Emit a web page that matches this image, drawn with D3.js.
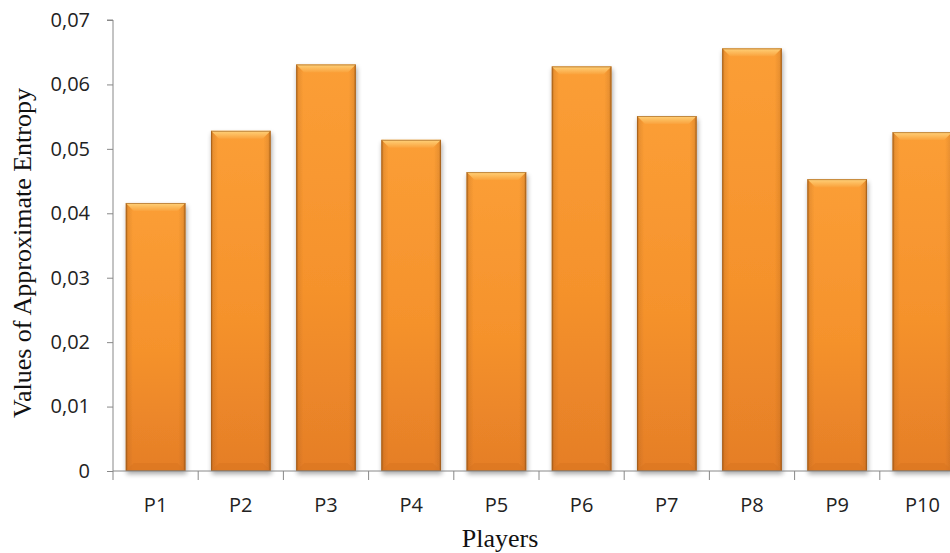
<!DOCTYPE html>
<html><head><meta charset="utf-8">
<script src="https://cdn.jsdelivr.net/npm/d3@7"></script>
<style>body{margin:0;background:#fff}svg{display:block}</style>
</head><body>
<svg id="c" width="950" height="553"></svg>
<script>
const categories = ["P1","P2","P3","P4","P5","P6","P7","P8","P9","P10"];
const values = [0.0416,0.0528,0.0631,0.0514,0.0464,0.0628,0.0551,0.0656,0.0453,0.0526];
const yTicks = [0,0.01,0.02,0.03,0.04,0.05,0.06,0.07];
const yTitle = "Values of Approximate Entropy";
const xTitle = "Players";

(function(){
const svg = d3.select("#c");
const mLeft = 113, mTop = 20, mBottom = 471, step = 85.2;
const x = d3.scaleBand().domain(categories).range([mLeft, mLeft + step*categories.length]).paddingInner(0.3).paddingOuter(0.15);
const y = d3.scaleLinear().domain([0,0.07]).range([mBottom, mTop]);

const defs = svg.append("defs");
const gv = defs.append("linearGradient").attr("id","gv").attr("x1",0).attr("y1",0).attr("x2",0).attr("y2",1);
gv.append("stop").attr("offset","0%").attr("stop-color","#FB9E36");
gv.append("stop").attr("offset","55%").attr("stop-color","#F5922C");
gv.append("stop").attr("offset","100%").attr("stop-color","#E57E27");
const gh = defs.append("linearGradient").attr("id","gh").attr("x1",0).attr("y1",0).attr("x2",1).attr("y2",0);
gh.append("stop").attr("offset","0%").attr("stop-color","#8a4a10").attr("stop-opacity",0.55);
gh.append("stop").attr("offset","4%").attr("stop-color","#8a4a10").attr("stop-opacity",0.15);
gh.append("stop").attr("offset","12%").attr("stop-color","#8a4a10").attr("stop-opacity",0);
gh.append("stop").attr("offset","88%").attr("stop-color","#8a4a10").attr("stop-opacity",0);
gh.append("stop").attr("offset","96%").attr("stop-color","#8a4a10").attr("stop-opacity",0.15);
gh.append("stop").attr("offset","100%").attr("stop-color","#8a4a10").attr("stop-opacity",0.55);
const gb = defs.append("linearGradient").attr("id","gb").attr("x1",0).attr("y1",0).attr("x2",0).attr("y2",1);
gb.append("stop").attr("offset","0%").attr("stop-color","#FFD27A");
gb.append("stop").attr("offset","100%").attr("stop-color","#FAA23C");
const f = defs.append("filter").attr("id","sh").attr("x","-20%").attr("y","-20%").attr("width","140%").attr("height","140%");
f.append("feGaussianBlur").attr("in","SourceAlpha").attr("stdDeviation",2.5);
f.append("feOffset").attr("dx",1).attr("dy",3).attr("result","b");
f.append("feComponentTransfer").append("feFuncA").attr("type","linear").attr("slope",0.35);
const m = f.append("feMerge"); m.append("feMergeNode"); m.append("feMergeNode").attr("in","SourceGraphic");

const yAxis = svg.append("g").attr("transform",`translate(${mLeft},0)`)
  .call(d3.axisLeft(y).tickValues(yTicks).tickSize(6).tickPadding(17)
    .tickFormat(d => d===0 ? "0" : d3.format(".2f")(d).replace(".",",")));
yAxis.select(".domain").attr("stroke","#888").attr("d",`M-6,${mTop}H0V${mBottom}`);
yAxis.selectAll(".tick line").attr("stroke","#888");
yAxis.selectAll("text").attr("font-family","Open Sans, sans-serif").attr("font-size",20).attr("fill","#222");

const bars = svg.append("g");
const bw = x.bandwidth();
categories.forEach((c,i) => {
  const g = bars.append("g").attr("filter","url(#sh)");
  const x0 = x(c), y0 = y(values[i]), h = y(0)-y(values[i]);
  g.append("rect").attr("x",x0).attr("y",y0).attr("width",bw).attr("height",h).attr("fill","url(#gv)");
  g.append("rect").attr("x",x0).attr("y",y0).attr("width",bw).attr("height",h).attr("fill","url(#gh)");
  const bv = 8;
  g.append("path").attr("d",`M${x0},${y0}H${x0+bw}L${x0+bw-bv},${y0+bv}H${x0+bv}Z`).attr("fill","url(#gb)");
  g.append("path").attr("d",`M${x0},${y0+h}H${x0+bw}L${x0+bw-bv},${y0+h-bv}H${x0+bv}Z`).attr("fill","#D8731F").attr("opacity",0.5);
  g.append("rect").attr("x",x0+0.5).attr("y",y0+0.5).attr("width",bw-1).attr("height",h-1).attr("fill","none").attr("stroke","#9a5a1a").attr("stroke-width",1).attr("opacity",0.6);
});

const xAxis = svg.append("g").attr("transform",`translate(0,${mBottom})`)
  .call(d3.axisBottom(x).tickSize(0).tickPadding(27));
xAxis.select(".domain").attr("stroke","#888").attr("d",`M${mLeft},0H950`);
xAxis.selectAll("text").attr("font-family","Open Sans, sans-serif").attr("font-size",20).attr("fill","#222");
const sep = d3.range(categories.length+1).map(i => mLeft + i*step);
xAxis.selectAll("line.sep").data(sep).join("line").attr("class","sep")
  .attr("x1",d=>d).attr("x2",d=>d).attr("y1",0).attr("y2",9).attr("stroke","#888");

svg.append("text").attr("x",500).attr("y",547).attr("text-anchor","middle")
  .attr("font-family","Liberation Serif, serif").attr("font-size",26).attr("fill","#111").text(xTitle);
svg.append("text").attr("transform","translate(31,253) rotate(-90)").attr("text-anchor","middle")
  .attr("font-family","Liberation Serif, serif").attr("font-size",26).attr("fill","#111").text(yTitle);
})();
</script>
</body></html>
